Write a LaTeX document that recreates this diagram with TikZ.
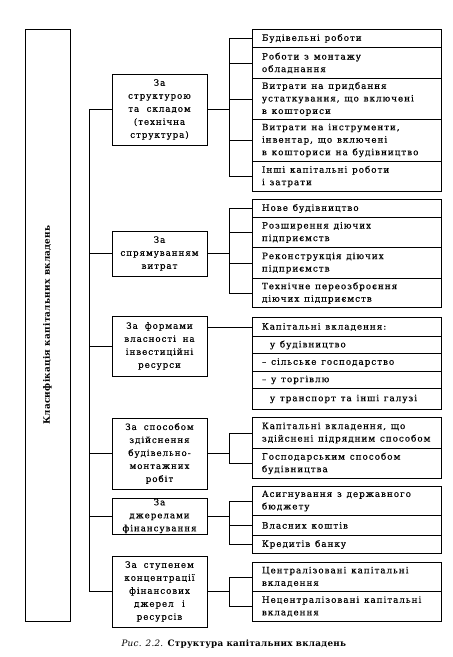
\documentclass[tikz,border=0pt]{standalone}
\usepackage{fontspec}
\setmainfont{DejaVu Serif}[LetterSpace=11, FakeBold=0.4]
\newfontfamily\titlefont{DejaVu Serif}[LetterSpace=3]
\begin{document}
\begin{tikzpicture}[x=1pt,y=-1pt,
  box/.style={draw, line width=0.9pt, inner sep=0pt},
  wide spaces/.style={execute at begin node={\spaceskip=4.8pt plus 3pt minus 1pt\relax}},
  cat/.style={box, wide spaces, minimum width=95pt, text width=93pt, align=center, font=\fontsize{8.7}{13}\selectfont},
  item/.style={box, wide spaces, anchor=north west, minimum width=189pt, text width=170pt, inner xsep=9.5pt, align=left, font=\fontsize{8.8}{12.5}\selectfont},
  link/.style={line width=0.9pt}]
\useasboundingbox (0,0) rectangle (453,657);
% title box
\node[box, minimum width=45pt, minimum height=592pt] (title) at (47.5,325) {};
\node[rotate=90, font=\titlefont\bfseries\fontsize{8.9}{11}\selectfont] (titletext) at (title.center) {Класифікація капітальних вкладень};
% categories
\node[cat, minimum height=71pt] (c1) at (159.5,109.5) {За\\структурою\\та складом\\(технічна\\структура)};
\node[cat, minimum height=45pt] (c2) at (159.5,253.5) {За\\спрямуванням\\витрат};
\node[cat, minimum height=60pt] (c3) at (159.5,346) {За формами\\власності на\\інвестиційні\\ресурси};
\node[cat, minimum height=71pt] (c4) at (159.5,453.5) {За способом\\здійснення\\будівельно-\\монтажних\\робіт};
\node[cat, minimum height=36pt] (c5) at (159.5,516) {За\\джерелами\\фінансування};
\node[cat, minimum height=71pt] (c6) at (159.5,591.5) {За ступенем\\концентрації\\фінансових\\джерел і\\ресурсів};
% group 1
\node[item, minimum height=18pt] (i11) at (252,29) {Будівельні роботи};
\node[item, minimum height=31pt] (i12) at (252,47) {Роботи з монтажу\\обладнання};
\node[item, minimum height=41pt] (i13) at (252,78) {Витрати на придбання\\устаткування, що включені\\в кошториси};
\node[item, minimum height=42pt] (i14) at (252,119) {Витрати на інструменти,\\інвентар, що включені\\в кошториси на будівництво};
\node[item, minimum height=30pt] (i15) at (252,161) {Інші капітальні роботи\\і затрати};
% group 2
\node[item, minimum height=18pt] (i21) at (252,199) {Нове будівництво};
\node[item, minimum height=30pt] (i22) at (252,217) {Розширення діючих\\підприємств};
\node[item, minimum height=31pt] (i23) at (252,247) {Реконструкція діючих\\підприємств};
\node[item, minimum height=29pt] (i24) at (252,278) {Технічне переозброєння\\діючих підприємств};
% group 3
\node[item, minimum height=19pt] (i31) at (252,317) {Капітальні вкладення:};
\node[item, minimum height=17pt] (i32) at (252,336) {\hspace*{8pt}у будівництво};
\node[item, minimum height=18pt] (i33) at (252,353) {– сільське господарство};
\node[item, minimum height=17pt] (i34) at (252,371) {– у торгівлю};
\node[item, minimum height=21pt] (i35) at (252,388) {\hspace*{8pt}у транспорт та інші галузі};
% group 4
\node[item, minimum height=31pt] (i41) at (252,417) {Капітальні вкладення, що\\здійснені підрядним способом};
\node[item, minimum height=30pt] (i42) at (252,448) {Господарським способом\\будівництва};
% group 5
\node[item, minimum height=29pt] (i51) at (252,486) {Асигнування з державного\\бюджету};
\node[item, minimum height=20pt] (i52) at (252,515) {Власних коштів};
\node[item, minimum height=18pt] (i53) at (252,535) {Кредитів банку};
% group 6
\node[item, minimum height=29pt] (i61) at (252,562) {Централізовані капітальні\\вкладення};
\node[item, minimum height=30pt] (i62) at (252,591) {Нецентралізовані капітальні\\вкладення};
% trunk
\draw[link] (c1.west) -- ++(-22,0) |- (c6.west);
\foreach \c in {c2,c3,c4,c5} \draw[link] (\c.west) -- ++(-22,0);
% group brackets
\draw[link] (c1.east) -- ++(22,0);
\draw[link] (i11.west) -- ++(-23,0) |- (i15.west);
\foreach \i in {i12,i13,i14} \draw[link] (\i.west) -- ++(-23,0);
\draw[link] (c2.east) -- ++(22,0);
\draw[link] (i21.west) -- ++(-23,0) |- (i24.west);
\foreach \i in {i22,i23} \draw[link] (\i.west) -- ++(-23,0);
\draw[link] (c3.east |- i31.west) -- (i31.west);
\draw[link] (c4.east) -- ++(22,0);
\draw[link] (i41.west) -- ++(-23,0) |- (i42.west);
\draw[link] (c5.east) -- ++(22,0);
\draw[link] (i51.west) -- ++(-23,0) |- (i53.west);
\draw[link] (i52.west) -- ++(-23,0);
\draw[link] (c6.east) -- ++(22,0);
\draw[link] (i61.west) -- ++(-23,0) |- (i62.west);
% caption
\node[font=\titlefont\fontsize{8.8}{11}\selectfont, anchor=west] (cap) at (118,644) {\textit{Рис. 2.2.} \textbf{Структура капітальних вкладень}};
\end{tikzpicture}
\end{document}
